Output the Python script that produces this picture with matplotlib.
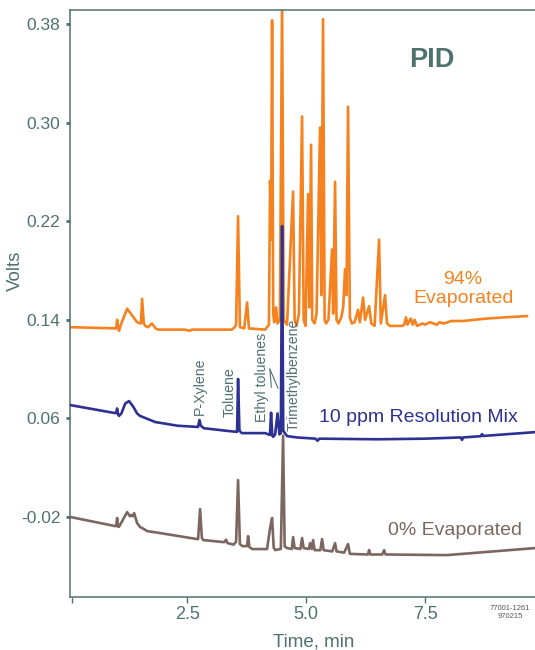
import matplotlib.pyplot as plt

plt.rcParams['font.family'] = ['Liberation Sans', 'DejaVu Sans']
plt.rcParams['axes.unicode_minus'] = False

TEAL = '#4e7270'
ORANGE = '#f5821f'
NAVY = '#2e3192'
BROWN = '#7c6760'

# (time in min, signal in volts)
evap94 = [
    (0.04, 0.134), (0.98, 0.133), (1.01, 0.133), (1.03, 0.140), (1.05, 0.134),
    (1.07, 0.131), (1.10, 0.135), (1.24, 0.149), (1.45, 0.138), (1.53, 0.137),
    (1.555, 0.157), (1.59, 0.137), (1.62, 0.135), (1.68, 0.134), (1.76, 0.137),
    (1.84, 0.133), (1.89, 0.132), (2.45, 0.132), (2.56, 0.131), (2.60, 0.132),
    (3.44, 0.132), (3.50, 0.134), (3.53, 0.136), (3.571, 0.224), (3.61, 0.134),
    (3.70, 0.133), (3.761, 0.154), (3.80, 0.133), (4.14, 0.132), (4.18, 0.134),
    (4.22, 0.136), (4.244, 0.253), (4.265, 0.205), (4.286, 0.383), (4.31, 0.145),
    (4.33, 0.138), (4.37, 0.150), (4.40, 0.137), (4.45, 0.140), (4.496, 0.400),
    (4.53, 0.140), (4.60, 0.136), (4.727, 0.244), (4.76, 0.140), (4.80, 0.135),
    (4.85, 0.145), (4.916, 0.305), (4.95, 0.140), (4.99, 0.135), (5.042, 0.242),
    (5.07, 0.150), (5.105, 0.282), (5.13, 0.140), (5.18, 0.137), (5.22, 0.145),
    (5.294, 0.296), (5.32, 0.160), (5.357, 0.384), (5.39, 0.140), (5.42, 0.137),
    (5.47, 0.140), (5.546, 0.197), (5.57, 0.145), (5.609, 0.252), (5.64, 0.140),
    (5.68, 0.137), (5.74, 0.142), (5.78, 0.150), (5.819, 0.181), (5.85, 0.160),
    (5.882, 0.313), (5.92, 0.142), (5.96, 0.137), (6.02, 0.138), (6.092, 0.148),
    (6.13, 0.138), (6.197, 0.158), (6.24, 0.140), (6.324, 0.151), (6.37, 0.137),
    (6.44, 0.135), (6.534, 0.205), (6.57, 0.137), (6.66, 0.160), (6.70, 0.137),
    (6.76, 0.135), (7.02, 0.135), (7.06, 0.136), (7.10, 0.142), (7.13, 0.136),
    (7.20, 0.141), (7.24, 0.136), (7.28, 0.140), (7.33, 0.135), (7.45, 0.137),
    (7.50, 0.136), (7.60, 0.138), (7.75, 0.136), (7.80, 0.138), (7.90, 0.137),
    (8.05, 0.139), (8.30, 0.139), (8.55, 0.140), (8.80, 0.141), (9.20, 0.142),
    (9.64, 0.143),
]

mix10 = [
    (0.04, 0.0708), (0.98, 0.0643), (1.01, 0.0643), (1.03, 0.068), (1.05, 0.063),
    (1.07, 0.062), (1.12, 0.064), (1.20, 0.072), (1.28, 0.074), (1.36, 0.070),
    (1.45, 0.064), (1.51, 0.062), (1.83, 0.057), (2.30, 0.054), (2.73, 0.053),
    (2.76, 0.0586), (2.79, 0.054), (2.85, 0.052), (3.30, 0.050), (3.55, 0.049),
    (3.571, 0.092), (3.60, 0.050), (3.65, 0.048), (4.14, 0.048), (4.24, 0.0465),
    (4.265, 0.0646), (4.29, 0.046), (4.31, 0.045), (4.35, 0.047), (4.40, 0.064),
    (4.44, 0.047), (4.47, 0.048), (4.496, 0.216), (4.52, 0.050), (4.60, 0.0456),
    (4.80, 0.0445), (5.20, 0.0435), (5.24, 0.0418), (5.28, 0.0435), (6.50, 0.043),
    (7.50, 0.0435), (8.25, 0.0445), (8.277, 0.0425), (8.30, 0.0445), (8.67, 0.0455),
    (8.697, 0.0472), (8.72, 0.0457), (9.81, 0.0488),
]

evap0 = [
    (0.04, -0.0200), (0.98, -0.0274), (1.01, -0.0274), (1.03, -0.0209), (1.05, -0.0280),
    (1.07, -0.0280), (1.24, -0.0161), (1.30, -0.0195), (1.324, -0.0185), (1.36, -0.0195),
    (1.387, -0.0169), (1.45, -0.0250), (1.513, -0.0282), (1.60, -0.0300), (1.66, -0.0315),
    (1.93, -0.0331), (2.71, -0.0380), (2.731, -0.0380), (2.773, -0.0137), (2.81, -0.0370),
    (2.84, -0.0388), (3.28, -0.0405), (3.319, -0.0385), (3.35, -0.0413), (3.48, -0.0425),
    (3.53, -0.0400), (3.571, 0.0099), (3.61, -0.0420), (3.66, -0.0437), (3.76, -0.0437),
    (3.782, -0.0356), (3.81, -0.0445), (3.87, -0.0461), (4.18, -0.0461), (4.244, -0.0290),
    (4.286, -0.0209), (4.32, -0.0450), (4.349, -0.0469), (4.47, -0.0460), (4.517, 0.0460),
    (4.55, -0.0440), (4.601, -0.0453), (4.70, -0.0460), (4.727, -0.0364), (4.76, -0.0453),
    (4.88, -0.0460), (4.916, -0.0372), (4.95, -0.0453), (5.06, -0.0460), (5.084, -0.0413),
    (5.12, -0.0460), (5.147, -0.0388), (5.18, -0.0470), (5.30, -0.0470), (5.336, -0.0380),
    (5.37, -0.0470), (5.55, -0.0480), (5.609, -0.0413), (5.64, -0.0480), (5.80, -0.0490),
    (5.882, -0.0421), (5.92, -0.0500), (6.30, -0.0505), (6.324, -0.0469), (6.35, -0.0505),
    (6.60, -0.0505), (6.639, -0.0470), (6.67, -0.0505), (7.96, -0.0510), (9.81, -0.0453),
]

yticks = [0.38, 0.30, 0.22, 0.14, 0.06, -0.02]
xticks = [0.08, 2.5, 5.0, 7.5]
xticklabels = ['', '2.5', '5.0', '7.5']

fig = plt.figure(figsize=(5.35, 6.5), dpi=100)
ax = fig.add_axes([70 / 535, 53 / 650, 465 / 535, 587 / 650])

for trace, color, z in [(evap94, ORANGE, 2), (evap0, BROWN, 3), (mix10, NAVY, 4)]:
    t, v = zip(*trace)
    ax.plot(t, v, color=color, lw=1.9, solid_joinstyle='round', zorder=z)

ax.set_xlim(0.04, 9.81)
ax.set_ylim(-0.085, 0.3914)

ax.set_yticks(yticks)
ax.set_yticklabels([f'{y:.2f}' for y in yticks])
ax.set_xticks(xticks)
ax.set_xticklabels(xticklabels)

for side in ['left', 'bottom', 'top']:
    ax.spines[side].set_color(TEAL)
    ax.spines[side].set_linewidth(1.1)
ax.spines['right'].set_visible(False)

ax.tick_params(axis='y', direction='out', length=3, width=2, color=TEAL,
               labelcolor=TEAL, labelsize=12.5, pad=4)
ax.tick_params(axis='x', direction='out', length=4.5, width=1, color=TEAL,
               labelcolor=TEAL, labelsize=13, pad=2)

ax.set_xlabel('Time, min', color=TEAL, fontsize=13.5)
ax.xaxis.set_label_coords(0.525, -0.062)
ax.set_ylabel('Volts', color=TEAL, fontsize=13.5)
ax.yaxis.set_label_coords(-0.099, 0.555)

ax.text(7.65, 0.351, 'PID', color=TEAL, fontsize=19.5, fontweight='bold',
        ha='center', va='center')
ax.text(8.30, 0.165, '94%\nEvaporated', color=ORANGE, fontsize=14,
        ha='center', va='center', linespacing=1.1)
ax.text(7.37, 0.061, '10 ppm Resolution Mix', color=NAVY, fontsize=14,
        ha='center', va='center')
ax.text(8.12, -0.0307, '0% Evaporated', color=BROWN, fontsize=14,
        ha='center', va='center')

peak_labels = [(2.77, 0.063, 'P-Xylene'), (3.40, 0.061, 'Toluene'),
               (4.08, 0.057, 'Ethyl toluenes'), (4.73, 0.050, 'Trimethylbenzene')]
for x, y, s in peak_labels:
    ax.text(x, y, s, rotation=90, color=TEAL, fontsize=10.2,
            ha='center', va='bottom')

ax.plot([4.24, 4.27], [0.0999, 0.0853], color=TEAL, lw=0.8, zorder=5)
ax.plot([4.24, 4.41], [0.0999, 0.0845], color=TEAL, lw=0.8, zorder=5)

fig.text(0.953, 0.058, '77001-1261\n970215', color='#555555', fontsize=5.5,
         ha='center', va='center', linespacing=1.1)

fig.savefig('out.png', dpi=100)
